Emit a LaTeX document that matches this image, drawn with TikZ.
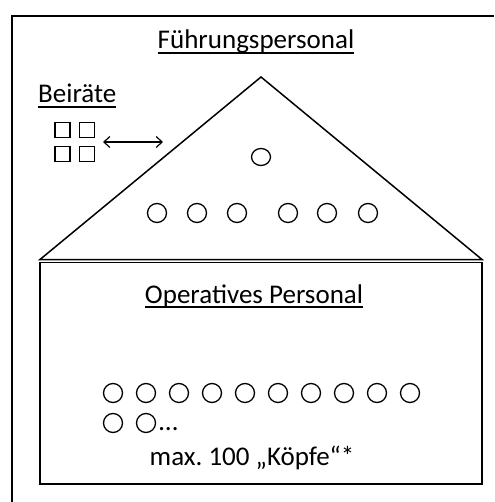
\documentclass[tikz,border=0pt]{standalone}
\usepackage{fontspec}
\setmainfont{Carlito}
\usetikzlibrary{arrows.meta,shapes.geometric}
\tikzset{
  frame/.style={line width=1.8pt},
  roof/.style={line width=1.5pt, line join=miter},
  head/.style={circle, draw, line width=1.3pt, minimum size=19pt, inner sep=0pt},
  seat/.style={rectangle, draw, line width=1.7pt, minimum size=15pt, inner sep=0pt},
  label/.style={inner sep=0pt, font=\fontsize{27}{32}\selectfont},
}
% underline that runs through the descenders, close to the baseline
\newcommand{\ulbar}[1]{\setbox0\hbox{#1}\rlap{\rule[-5pt]{\wd0}{1.6pt}}\box0}
\frenchspacing
\begin{document}
\begin{tikzpicture}[x=1pt,y=-1pt]
\useasboundingbox (0,0) rectangle (494,502);
% outer frame (only top and left edges lie in view)
\draw[frame] (12,502) -- (12,16) -- (494,16);

% roof: management triangle
\coordinate (apex) at (261,77);
\coordinate (bl) at (40,259.5);
\coordinate (br) at (482,259.5);
\draw[roof] (bl) -- (apex) -- (br) -- cycle;

% operative body
\draw[frame] (40,262.5) rectangle (482,484);

% titles
\node[label, anchor=base] (fp) at (256,49) {\ulbar{Führungspersonal}};
\node[label, anchor=base west] (br2) at (38,103) {\ulbar{Beiräte}};
\node[label, anchor=base] (op) at (254,303) {\ulbar{Operatives Personal}};
\node[label, anchor=base] (max) at (252,465) {max. 100 „Köpfe“*};

% advisory board seats
\node[seat] (s1) at (62.5,130) {};
\node[seat] (s2) at (87,130) {};
\node[seat] (s3) at (62.5,154) {};
\node[seat] (s4) at (87,154) {};
\coordinate (arrL) at (103,142);
\coordinate (arrR) at (163,142);
\draw[line width=1.2pt, {Straight Barb[length=6pt,width=11pt]}-{Straight Barb[length=6pt,width=11pt]}] (arrL) -- (arrR);

% management heads
\node[ellipse, draw, line width=1.3pt, inner sep=0pt, minimum width=19pt, minimum height=17pt] (m0) at (261,157) {};
\foreach \x [count=\i] in {157,197,237,288,327,368}
  \node[head] (m\i) at (\x,213) {};

% operative heads
\foreach \i in {0,...,9}
  \node[head] (o\i) at ({113+33*\i},393) {};
\node[head] (o10) at (113,423) {};
\node[head] (o11) at (146,423) {};
\node[label, anchor=base west] (dots) at (159,430) {…};
\end{tikzpicture}
\end{document}
